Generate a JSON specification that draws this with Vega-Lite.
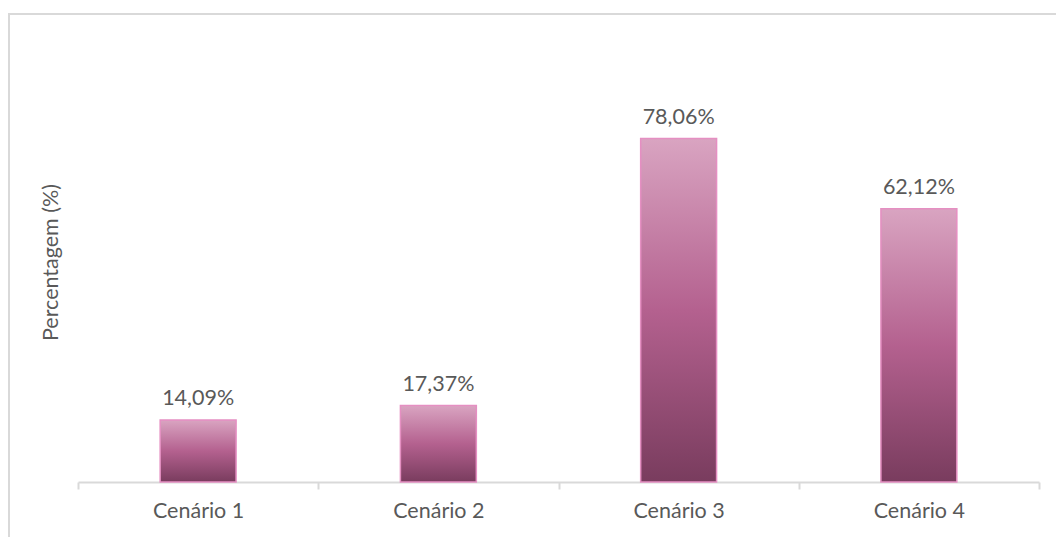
{
  "$schema": "https://vega.github.io/schema/vega-lite/v6.json",
  "width": 1047,
  "height": 523,
  "autosize": {"type": "none"},
  "padding": {"left": 9, "top": 14, "right": 0, "bottom": 0},
  "background": "#ffffff",
  "config": {
    "font": "Lato",
    "view": {"stroke": "#d9d9d9", "strokeWidth": 2, "strokeDash": [1047, 1570, 523]}
  },
  "data": {
    "values": [
      {"cenario": "Cenário 1", "valor": 14.09, "rotulo": "14,09%"},
      {"cenario": "Cenário 2", "valor": 17.37, "rotulo": "17,37%"},
      {"cenario": "Cenário 3", "valor": 78.06, "rotulo": "78,06%"},
      {"cenario": "Cenário 4", "valor": 62.12, "rotulo": "62,12%"}
    ]
  },
  "encoding": {
    "x": {
      "field": "cenario",
      "type": "nominal",
      "sort": null,
      "scale": {"range": [69, 1030], "paddingInner": 0, "paddingOuter": 0},
      "axis": {
        "orient": "bottom",
        "offset": -55,
        "title": null,
        "labelAngle": 0,
        "domainColor": "#d9d9d9",
        "domainWidth": 2,
        "tickBand": "extent",
        "tickColor": "#d9d9d9",
        "tickWidth": 2,
        "tickSize": 7,
        "labelPadding": 11,
        "labelFontSize": 21.5,
        "labelColor": "#595959",
        "grid": false
      }
    },
    "y": {
      "field": "valor",
      "type": "quantitative",
      "scale": {"domain": [0, 100], "range": [468, 28], "nice": false, "zero": true},
      "axis": {
        "orient": "left",
        "domain": false,
        "ticks": false,
        "labels": false,
        "grid": false,
        "title": "Percentagem (%)",
        "titleColor": "#595959",
        "titleFontSize": 21.5,
        "titleFontWeight": "normal",
        "titleAngle": -90,
        "titleAlign": "center",
        "titleBaseline": "middle",
        "titleX": 42,
        "titleY": 248
      }
    }
  },
  "layer": [
    {
      "mark": {
        "type": "bar",
        "width": {"band": 0.316},
        "stroke": "#e58fc2",
        "strokeWidth": 1.5,
        "fill": {
          "gradient": "linear",
          "x1": 0, "y1": 0, "x2": 0, "y2": 1,
          "stops": [
            {"offset": 0, "color": "#d9a4c1"},
            {"offset": 0.5, "color": "#b4618f"},
            {"offset": 1, "color": "#793c5e"}
          ]
        }
      }
    },
    {
      "mark": {
        "type": "text",
        "baseline": "alphabetic",
        "dy": -15,
        "fontSize": 21.5,
        "color": "#595959"
      },
      "encoding": {
        "text": {"field": "rotulo", "type": "nominal"}
      }
    }
  ]
}
